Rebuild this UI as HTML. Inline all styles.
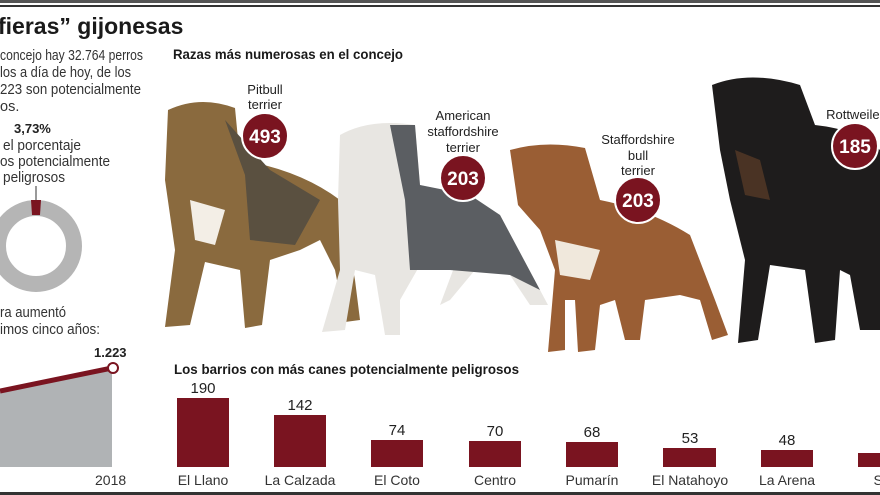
<!DOCTYPE html>
<html><head><meta charset="utf-8"><style>
html,body{margin:0;padding:0;background:#fff;}
svg{display:block;}
text{font-family:"Liberation Sans",sans-serif;}
</style></head><body>
<svg width="880" height="495" viewBox="0 0 880 495" xmlns="http://www.w3.org/2000/svg">
<rect width="880" height="495" fill="#fff"/>
<rect x="0" y="0" width="880" height="3" fill="#555"/>
<rect x="0" y="5" width="880" height="2" fill="#333"/>
<text x="-2" y="34" font-size="23" font-weight="bold" fill="#1a1a1a">fieras” gijonesas</text>
<g font-size="14.5" fill="#333">
<text x="0" y="60" textLength="143" lengthAdjust="spacingAndGlyphs">concejo hay 32.764 perros</text>
<text x="0" y="77" textLength="131" lengthAdjust="spacingAndGlyphs">los a día de hoy, de los</text>
<text x="0" y="94" textLength="141" lengthAdjust="spacingAndGlyphs">223 son potencialmente</text>
<text x="0" y="111">os.</text>
<text x="3" y="150" textLength="78" lengthAdjust="spacingAndGlyphs">el porcentaje</text>
<text x="0" y="166" textLength="110" lengthAdjust="spacingAndGlyphs">os potencialmente</text>
<text x="3" y="182" textLength="62" lengthAdjust="spacingAndGlyphs">peligrosos</text>
<text x="0" y="317" textLength="66" lengthAdjust="spacingAndGlyphs">ra aumentó</text>
<text x="0" y="334" textLength="100" lengthAdjust="spacingAndGlyphs">imos cinco años:</text>
</g>
<text x="14" y="133" font-size="13" font-weight="bold" fill="#222">3,73%</text>
<line x1="36" y1="186" x2="36" y2="200" stroke="#333" stroke-width="1"/>
<circle cx="36" cy="246" r="38" fill="none" stroke="#b5b5b5" stroke-width="16"/>
<path d="M31 200 L41 200 L40 215 L32 215Z" fill="#7a1420"/>
<polygon points="0,392 112,368 112,467 0,467" fill="#b0b3b5"/>
<line x1="0" y1="391" x2="112" y2="368" stroke="#7a1420" stroke-width="5"/>
<circle cx="113" cy="368" r="5" fill="#fff" stroke="#7a1420" stroke-width="2"/>
<text x="94" y="357" font-size="13" font-weight="bold" fill="#222">1.223</text>
<text x="95" y="485" font-size="14" fill="#333">2018</text>
<text x="173" y="59" font-size="14" font-weight="bold" fill="#1a1a1a" textLength="230" lengthAdjust="spacingAndGlyphs">Razas más numerosas en el concejo</text>
<g>
<path d="M168 110 Q200 95 235 108 L240 160 Q300 170 340 200 L355 280 L360 320 L345 322 L335 270 L320 240 L300 250 L270 260 L262 325 L245 328 L240 270 L205 262 L190 325 L165 327 L175 250 L165 180 Z" fill="#8a6a3e"/>
<path d="M225 120 L245 175 L250 240 L295 245 L320 200 L270 170 Z" fill="#5a5040"/>
<path d="M190 200 L225 210 L215 245 L195 240Z" fill="#f3eee6"/>
</g>
<g>
<path d="M340 135 Q370 118 415 125 L420 185 Q470 195 500 215 L540 290 L548 305 L530 305 L510 275 L475 270 L450 300 L440 305 L455 265 L420 265 L400 300 L400 335 L385 335 L375 275 L355 270 L345 330 L322 332 L340 270 L338 200 Z" fill="#e8e6e2"/>
<path d="M390 125 L415 125 L420 185 L470 195 L500 215 L540 290 L510 275 L450 270 L410 270 L405 200Z" fill="#5b5e62"/>
</g>
<g>
<path d="M510 150 Q545 140 585 148 L600 200 Q650 210 690 235 L715 300 L728 335 L712 340 L700 300 L680 295 L645 300 L640 340 L625 340 L615 300 L600 305 L595 350 L578 352 L575 300 L565 300 L565 350 L548 352 L555 270 L540 230 L518 205 Z" fill="#9a5e34"/>
<path d="M555 240 L600 250 L590 280 L560 275Z" fill="#f0e8dc"/>
</g>
<g>
<path d="M712 85 Q750 70 800 85 L815 125 Q860 130 880 150 L880 330 L860 330 L850 275 L840 270 L835 340 L815 343 L805 270 L770 265 L758 340 L738 343 L745 260 L730 200 L720 150 Z" fill="#1e1c1c"/>
<path d="M735 150 L760 160 L770 200 L745 195Z" fill="#4a3324"/>
</g>
<g font-size="13" fill="#222" text-anchor="middle">
<text x="265" y="94">Pitbull</text><text x="265" y="109">terrier</text>
<text x="463" y="120">American</text><text x="463" y="136">staffordshire</text><text x="463" y="152">terrier</text>
<text x="638" y="144">Staffordshire</text><text x="638" y="160">bull</text><text x="638" y="175">terrier</text>
<text x="855" y="119">Rottweiler</text>
</g>
<g font-size="19" font-weight="bold" fill="#fff" text-anchor="middle">
<circle cx="265" cy="136" r="23" fill="#7a1420" stroke="#fff" stroke-width="2"/><text x="265" y="143">493</text>
<circle cx="463" cy="178" r="23" fill="#7a1420" stroke="#fff" stroke-width="2"/><text x="463" y="185">203</text>
<circle cx="638" cy="200" r="23" fill="#7a1420" stroke="#fff" stroke-width="2"/><text x="638" y="207">203</text>
<circle cx="855" cy="146" r="23" fill="#7a1420" stroke="#fff" stroke-width="2"/><text x="855" y="153">185</text>
</g>
<text x="174" y="374" font-size="14" font-weight="bold" fill="#1a1a1a" textLength="345" lengthAdjust="spacingAndGlyphs">Los barrios con más canes potencialmente peligrosos</text>
<g fill="#7a1420">
<rect x="177" y="398" width="52" height="69"/>
<rect x="274" y="415" width="52" height="52"/>
<rect x="371" y="440" width="52" height="27"/>
<rect x="469" y="441" width="52" height="26"/>
<rect x="566" y="442" width="52" height="25"/>
<rect x="663" y="448" width="53" height="19"/>
<rect x="761" y="450" width="52" height="17"/>
<rect x="858" y="453" width="30" height="14"/>
</g>
<g font-size="15" fill="#222" text-anchor="middle">
<text x="203" y="393">190</text><text x="300" y="410">142</text><text x="397" y="435">74</text>
<text x="495" y="436">70</text><text x="592" y="437">68</text><text x="690" y="443">53</text>
<text x="787" y="445">48</text><text x="884" y="448">3</text>
</g>
<g font-size="14" fill="#333" text-anchor="middle">
<text x="203" y="485">El Llano</text><text x="300" y="485">La Calzada</text><text x="397" y="485">El Coto</text>
<text x="495" y="485">Centro</text><text x="592" y="485">Pumarín</text><text x="690" y="485">El Natahoyo</text>
<text x="787" y="485">La Arena</text><text x="882" y="485">So</text>
</g>
<rect x="0" y="492" width="880" height="3" fill="#333"/>
</svg>
</body></html>
